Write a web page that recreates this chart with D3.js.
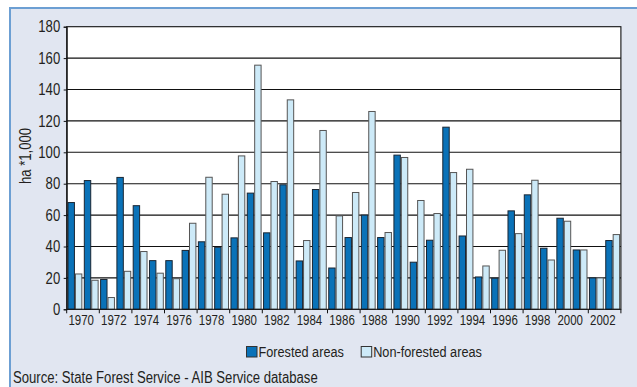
<!DOCTYPE html>
<html>
<head>
<meta charset="utf-8">
<script src="https://cdn.jsdelivr.net/npm/d3@7"></script>
<style>
  html, body { margin: 0; padding: 0; background: #ffffff; }
  svg { display: block; }
  text { font-family: "Liberation Sans", Arial, sans-serif; fill: #231f20; }
</style>
</head>
<body>
<svg id="chart" width="637" height="387"></svg>
<script>
const years = d3.range(1970, 2004);
const forested = [68, 82, 19, 84, 66, 31, 31, 37.5, 43, 39.5, 45.5, 74, 48.7, 79.3, 30.8, 76.3, 26.3, 45.7, 60, 45.7, 98.2, 30, 44, 116, 46.7, 20.6, 19.8, 62.7, 72.9, 38.9, 58, 37.8, 20, 43.8];
const nonForested = [22.5, 18.5, 7.5, 24.2, 36.8, 23, 19.5, 54.8, 84.1, 73.3, 97.7, 155.5, 81.4, 133.4, 43.8, 113.9, 59.5, 74.4, 126, 48.9, 96.7, 69.3, 61, 87.1, 89.2, 27.6, 37.6, 48.2, 82.2, 31.4, 56.1, 37.8, 20, 47.6];
const yTicks = [0, 20, 40, 60, 80, 100, 120, 140, 160, 180];
const xLabelYears = years.filter(y => y % 2 === 0);
const seriesNames = ["Forested areas", "Non-forested areas"];
const seriesColors = ["#0a72b8", "#cdeaf8"];

(function () {
const svg = d3.select("#chart");
const W = 637, H = 387;
const NARROW = 0.82;

// background frame
svg.append("rect").attr("x", 0).attr("y", 0).attr("width", W).attr("height", H).attr("fill", "#ffffff");
svg.append("rect").attr("x", 10).attr("y", 8).attr("width", W - 10).attr("height", H - 8).attr("fill", "#e1e6f1");
svg.append("line").attr("x1", 10).attr("x2", W).attr("y1", 8).attr("y2", 8).attr("stroke", "#6c9fd3").attr("stroke-width", 2);
svg.append("line").attr("x1", 10).attr("x2", 10).attr("y1", 7).attr("y2", H).attr("stroke", "#6c9fd3").attr("stroke-width", 2);

const pLeft = 66.7, pRight = 620.9, pTop = 26.7, pBottom = 309.3;

const x = d3.scaleBand().domain(years).range([pLeft, pRight]).paddingInner(0.09).paddingOuter(0.05);
const xStep = d3.scaleBand().domain(years).range([pLeft, pRight]).padding(0);
const xs = d3.scaleBand().domain([0, 1]).range([0, x.bandwidth()]);
const y = d3.scaleLinear().domain([0, 180]).range([pBottom, pTop]);

// plot background
svg.append("rect").attr("x", pLeft).attr("y", pTop).attr("width", pRight - pLeft).attr("height", pBottom - pTop).attr("fill", "#ffffff");

// grid lines
svg.append("g").selectAll("line").data(yTicks.filter(t => t > 0 && t < 180)).join("line")
  .attr("x1", pLeft).attr("x2", pRight)
  .attr("y1", d => y(d)).attr("y2", d => y(d))
  .attr("stroke", "#111").attr("stroke-width", 1.1);

// bars
const data = years.map((yr, i) => ({ yr, vals: [forested[i], nonForested[i]] }));
const groups = svg.append("g").selectAll("g").data(data).join("g")
  .attr("transform", d => `translate(${x(d.yr)},0)`);
groups.selectAll("rect").data(d => d.vals.map((v, k) => ({ v, k }))).join("rect")
  .attr("x", d => xs(d.k) + 0.5)
  .attr("width", xs.bandwidth() - 1)
  .attr("y", d => y(d.v))
  .attr("height", d => y(0) - y(d.v))
  .attr("fill", d => seriesColors[d.k])
  .attr("stroke", d => d.k === 0 ? "#1a2633" : "#555")
  .attr("stroke-width", 1);

// plot frame
svg.append("rect").attr("x", pLeft).attr("y", pTop).attr("width", pRight - pLeft).attr("height", pBottom - pTop)
  .attr("fill", "none").attr("stroke", "#111").attr("stroke-width", 1.1);

// y axis
const yAxis = d3.axisLeft(y).tickValues(yTicks).tickSize(3).tickPadding(5).tickFormat(d3.format("d"));
const gy = svg.append("g").attr("transform", `translate(${pLeft},0)`).call(yAxis);
gy.select(".domain").attr("stroke", "#111");
gy.selectAll(".tick line").attr("stroke", "#111");
gy.selectAll(".tick text")
  .attr("font-size", 16).attr("fill", "#231f20")
  .attr("font-family", "'Liberation Sans', Arial, sans-serif")
  .attr("x", 0)
  .attr("transform", `translate(-6.5,0) scale(${NARROW},1)`);

// x axis ticks (every two years at band boundaries)
const gx = svg.append("g");
gx.selectAll("line").data(xLabelYears.concat([2004])).join("line")
  .attr("x1", d => d === 2004 ? pRight : xStep(d)).attr("x2", d => d === 2004 ? pRight : xStep(d))
  .attr("y1", pBottom).attr("y2", pBottom + 4)
  .attr("stroke", "#111");
gx.selectAll("text").data(xLabelYears).join("text")
  .attr("transform", d => `translate(${xStep(d) + 14.5},${pBottom + 16}) scale(${NARROW},1)`)
  .attr("text-anchor", "middle")
  .attr("font-size", 14)
  .text(d => d);

// y title
svg.append("text")
  .attr("transform", `translate(31,156) rotate(-90) scale(${NARROW},1)`)
  .attr("text-anchor", "middle")
  .attr("font-size", 16)
  .text("ha *1,000");

// legend
const legendX = [246, 360.7];
const lg = svg.append("g").selectAll("g").data(seriesNames).join("g")
  .attr("transform", (d, i) => `translate(${legendX[i]},346)`);
lg.append("rect").attr("x", 0.5).attr("y", 0.5).attr("width", 10.5).attr("height", 10.5)
  .attr("fill", (d, i) => seriesColors[i]).attr("stroke", "#333").attr("stroke-width", 1);
lg.append("text").attr("transform", `translate(12.5,11.3) scale(${NARROW},1)`).attr("font-size", 15.5).text(d => d);

// source
svg.append("text").attr("transform", `translate(13,383.3) scale(${NARROW},1)`).attr("font-size", 16)
  .text("Source: State Forest Service - AIB Service database");
})();
</script>
</body>
</html>
